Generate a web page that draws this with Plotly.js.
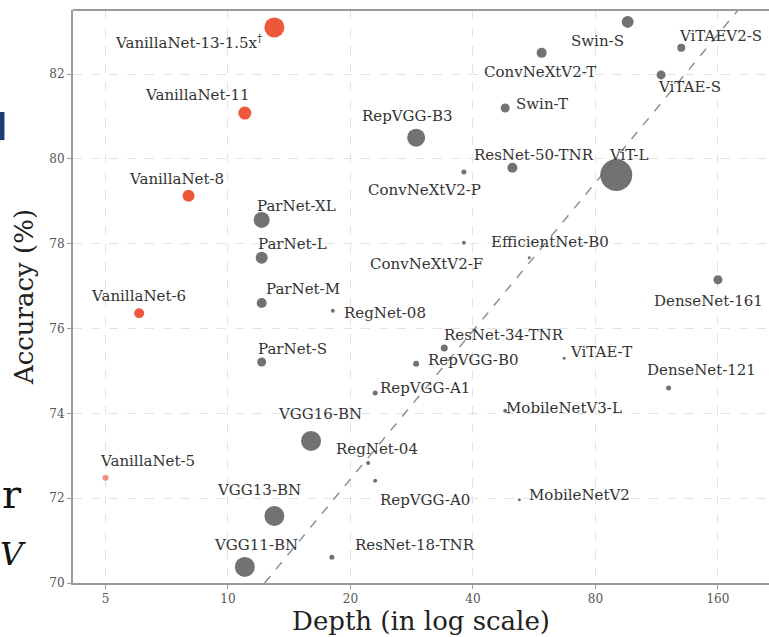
<!DOCTYPE html>
<html>
<head>
<meta charset="utf-8">
<script src="https://cdn.plot.ly/plotly-3.0.1.min.js"></script>
<style>html,body{margin:0;padding:0;background:#fff;}#chart{width:769px;height:637px;}</style>
</head>
<body>
<div id="chart"></div>
<script>
// VanillaNet series (red)
const vanNames = ["VanillaNet-13-1.5x<sup>†</sup>", "VanillaNet-11", "VanillaNet-8", "VanillaNet-6", "VanillaNet-5"];
const vanDepth = [13, 11, 8, 6.05, 5];
const vanAcc = [83.1, 81.08, 79.13, 76.36, 72.48];
const vanSize = [20, 13, 12, 10, 6];

// Other networks (grey)
const otherNames = ["Swin-S", "ViTAEV2-S", "ConvNeXtV2-T", "ViTAE-S", "Swin-T", "RepVGG-B3", "ResNet-50-TNR", "ViT-L",
  "ConvNeXtV2-P", "ParNet-XL", "ParNet-L", "EfficientNet-B0", "ConvNeXtV2-F", "ParNet-M", "RegNet-08", "ResNet-34-TNR",
  "RepVGG-B0", "ParNet-S", "ViTAE-T", "DenseNet-161", "DenseNet-121", "RepVGG-A1", "MobileNetV3-L", "VGG16-BN",
  "RegNet-04", "RepVGG-A0", "MobileNetV2", "VGG13-BN", "VGG11-BN", "ResNet-18-TNR"];
const otherDepth = [96, 130, 59, 116, 48, 29, 50, 90,
  38, 12.1, 12.1, 38, 55, 12.1, 18.1, 34,
  29, 12.1, 67, 160, 121, 23, 48, 16,
  22.1, 23, 52, 13, 11, 18];
const otherAcc = [83.23, 82.62, 82.5, 81.98, 81.2, 80.5, 79.79, 79.62,
  79.69, 78.56, 77.67, 78.02, 77.67, 76.6, 76.42, 75.54,
  75.17, 75.21, 75.3, 77.15, 74.6, 74.48, 74.06, 73.35,
  72.83, 72.41, 71.96, 71.58, 70.38, 70.61];
const otherSize = [12, 8, 10, 9, 9, 18, 10, 32,
  5, 16, 12, 4, 3, 10, 4, 7,
  6, 9, 3, 9, 5, 5, 4, 20,
  4, 4, 3, 20, 20, 5];

// dashed reference line
const trendDepth = [12.3, 179];
const trendAcc = [70.0, 83.5];

// tick labels
const xTicks = [5, 10, 20, 40, 80, 160];
const yTicks = [70, 72, 74, 76, 78, 80, 82];

// label offsets in pixels (dx right, dy down)
const vanOffsets = [[-86, 15], [-47, -18], [-12, -17], [-1, -17], [42, -17]];
const otherOffsets = [[-30, 19], [39, -12], [-2, 19], [28, 12], [37, -4], [-9, -22], [22, -13], [13, -20],
  [-39, 18], [35, -14], [31, -14], [86, -1], [-103, 6], [41, -14], [52, 2], [60, -13],
  [57, -4], [31, -13], [37, -6], [-9, 21], [33, -18], [50, -5], [59, -3], [9, -27],
  [9, -14], [50, 19], [60, -5], [-15, -26], [11, -22], [83, -12]];

const serif = "DejaVu Serif, Liberation Serif, serif";
const labelFont = {family: serif, size: 15, color: "#333"};

const annotations = [];
function addLabels(names, depth, acc, offs) {
  names.forEach((n, i) => {
    annotations.push({
      x: Math.log10(depth[i]), y: acc[i], xref: "x", yref: "y",
      text: n, showarrow: false, font: labelFont,
      xshift: offs[i][0], yshift: -offs[i][1]
    });
  });
}
addLabels(vanNames, vanDepth, vanAcc, vanOffsets);
addLabels(otherNames, otherDepth, otherAcc, otherOffsets);

// stray page fragments at the left edge
annotations.push({xref: "paper", yref: "paper", x: -0.105, y: 0.155, xanchor: "left", yanchor: "middle",
  text: "r", showarrow: false, font: {family: serif, size: 40, color: "#111"}});
annotations.push({xref: "paper", yref: "paper", x: -0.108, y: 0.05, xanchor: "left", yanchor: "middle",
  text: "<i>V</i>", showarrow: false, font: {family: serif, size: 32, color: "#111"}});

const traces = [
  {
    x: trendDepth, y: trendAcc, mode: "lines", type: "scatter",
    line: {color: "#8f8f8f", width: 1.5, dash: "dash"}, hoverinfo: "skip"
  },
  {
    x: otherDepth, y: otherAcc, mode: "markers", type: "scatter",
    marker: {size: otherSize, color: "#5f5f5f", opacity: 0.88, line: {width: 0}}
  },
  {
    x: vanDepth, y: vanAcc, mode: "markers", type: "scatter",
    marker: {size: vanSize, color: "#ec4a2c", opacity: [0.92, 0.92, 0.92, 0.92, 0.6], line: {width: 0}}
  }
];

const axisCommon = {
  showline: true, linecolor: "#9a9a9a", linewidth: 2,
  showgrid: true, gridcolor: "#e3e3e3", griddash: "dash", gridwidth: 1,
  ticks: "outside", ticklen: 4, tickcolor: "#9a9a9a",
  tickfont: {family: serif, size: 12, color: "#555"},
  zeroline: false
};

const layout = {
  width: 769, height: 637,
  margin: {l: 73, r: 0, t: 10, b: 54},
  paper_bgcolor: "#fff", plot_bgcolor: "#fff",
  showlegend: false,
  xaxis: Object.assign({}, axisCommon, {
    type: "log", range: [0.6191, 2.3296],
    tickvals: xTicks, ticktext: xTicks.map(String),
    title: {text: "Depth (in log scale)", font: {family: serif, size: 26, color: "#222"}, standoff: 6}
  }),
  yaxis: Object.assign({}, axisCommon, {
    range: [70, 83.51],
    tickvals: yTicks, ticktext: yTicks.map(String),
    title: {text: "Accuracy (%)", font: {family: serif, size: 26, color: "#222"}, standoff: 8}
  }),
  shapes: [
    {type: "line", xref: "paper", yref: "paper", x0: 0, x1: 1, y0: 1, y1: 1, line: {color: "#9a9a9a", width: 2}},
    {type: "rect", xref: "paper", yref: "paper", x0: -0.1049, x1: -0.0985, y0: 0.773, y1: 0.822,
     fillcolor: "#1d3c72", line: {width: 0}}
  ],
  annotations: annotations
};

Plotly.newPlot("chart", traces, layout, {staticPlot: true, displayModeBar: false});
</script>
</body>
</html>
